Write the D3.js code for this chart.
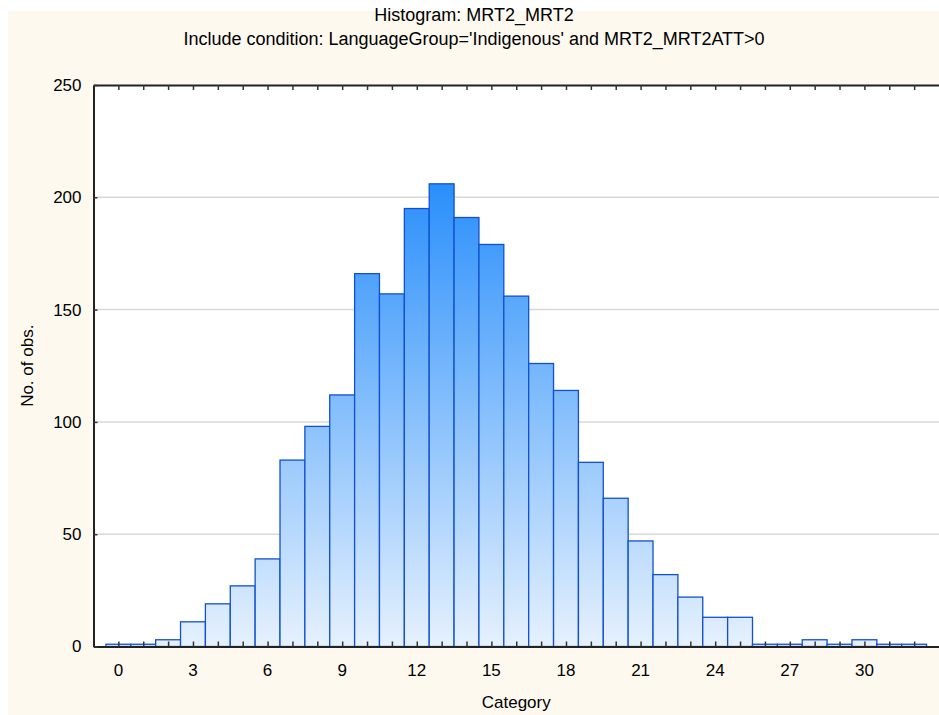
<!DOCTYPE html>
<html>
<head>
<meta charset="utf-8">
<script src="https://cdn.jsdelivr.net/npm/d3@7"></script>
<style>
  html, body { margin: 0; padding: 0; background: #fff; }
  svg { display: block; }
</style>
</head>
<body>
<script>
// histogram counts, one per category 0..32
var categories = d3.range(0, 33)
var counts = [1, 1, 3, 11, 19, 27, 39, 83, 98, 112, 166, 157, 195, 206, 191, 179, 156,
              126, 114, 82, 66, 47, 32, 22, 13, 13, 1, 1, 3, 1, 3, 1, 1]
var xTickLabels = [0, 3, 6, 9, 12, 15, 18, 21, 24, 27, 30]
var yTickLabels = [0, 50, 100, 150, 200, 250]
var titleLines = ["Histogram: MRT2_MRT2",
                  "Include condition: LanguageGroup='Indigenous' and MRT2_MRT2ATT>0"]

var width = 939, height = 715
var margin = {top: 85, right: 0, bottom: 68.5, left: 93.5}
var fontSize = 17

var svg = d3.select("body").append("svg")
    .attr("width", width)
    .attr("height", height)
    .attr("font-family", "'Liberation Sans', Arial, sans-serif")
    .attr("font-size", fontSize)

// cream graph background
svg.append("rect")
    .attr("x", 8).attr("y", 11)
    .attr("width", width - 8).attr("height", height - 11)
    .attr("fill", "#fdf9ef")

var xScale = d3.scaleLinear()
    .domain([-1, 33])
    .range([margin.left, width - margin.right])
var yScale = d3.scaleLinear()
    .domain([0, 250])
    .range([height - margin.bottom, margin.top])

// plot area
svg.append("rect")
    .attr("x", margin.left).attr("y", margin.top)
    .attr("width", width - margin.right - margin.left)
    .attr("height", yScale(0) - margin.top)
    .attr("fill", "#fff")

// gridlines
svg.append("g")
    .selectAll("line")
    .data(yTickLabels.filter(d => d > 0 && d < 250))
    .join("line")
        .attr("x1", margin.left).attr("x2", width)
        .attr("y1", d => yScale(d)).attr("y2", d => yScale(d))
        .attr("stroke", "#d8d8d8")
        .attr("stroke-width", 1.5)

// vertical gradient in user space so tall bars are darker at top
var defs = svg.append("defs")
var grad = defs.append("linearGradient")
    .attr("id", "barGrad")
    .attr("gradientUnits", "userSpaceOnUse")
    .attr("x1", 0).attr("x2", 0)
    .attr("y1", yScale(0)).attr("y2", yScale(d3.max(counts)))
grad.append("stop").attr("offset", 0).attr("stop-color", "#e6f1fd")
grad.append("stop").attr("offset", 1).attr("stop-color", "#2a8ffb")

svg.append("g")
    .selectAll("rect")
    .data(counts)
    .join("rect")
        .attr("x", (d, i) => xScale(categories[i] - 0.5))
        .attr("width", (d, i) => xScale(categories[i] + 0.5) - xScale(categories[i] - 0.5))
        .attr("y", d => yScale(d))
        .attr("height", d => yScale(0) - yScale(d))
        .attr("fill", "url(#barGrad)")
        .attr("stroke", "#1150d2")
        .attr("stroke-width", 1.3)

// axes: bottom, top, left spines with inward ticks
var xAxisBottom = g => g
    .attr("transform", `translate(0,${yScale(0)})`)
    .call(d3.axisBottom(xScale).tickValues(categories).tickSizeInner(-5).tickSizeOuter(0).tickFormat(""))
    .call(g => g.select(".domain").attr("stroke", "#222").attr("stroke-width", 2))
    .call(g => g.selectAll(".tick line").attr("stroke", "#333").attr("stroke-width", 1.5))
var xAxisTop = g => g
    .attr("transform", `translate(0,${margin.top})`)
    .call(d3.axisTop(xScale).tickValues(categories).tickSizeInner(-5).tickSizeOuter(0).tickFormat(""))
    .call(g => g.select(".domain").attr("stroke", "#222").attr("stroke-width", 2))
    .call(g => g.selectAll(".tick line").attr("stroke", "#333").attr("stroke-width", 1.5))
var yAxis = g => g
    .attr("transform", `translate(${margin.left},0)`)
    .call(d3.axisLeft(yScale).tickValues(yTickLabels).tickSizeInner(-4).tickSizeOuter(0).tickPadding(12))
    .call(g => g.select(".domain").attr("stroke", "#222").attr("stroke-width", 2))
    .call(g => g.selectAll(".tick line").attr("stroke", "#333").attr("stroke-width", 1.5))
    .call(g => g.selectAll(".tick text").attr("fill", "#000").attr("font-size", fontSize).attr("font-family", null))

svg.append("g").call(xAxisBottom)
svg.append("g").call(xAxisTop)
svg.append("g").call(yAxis)

// x tick labels every 3 categories
svg.append("g")
    .selectAll("text")
    .data(xTickLabels)
    .join("text")
        .attr("x", d => xScale(d))
        .attr("y", yScale(0) + 29)
        .attr("text-anchor", "middle")
        .text(d => d)

// axis titles
svg.append("text")
    .attr("x", (margin.left + width) / 2)
    .attr("y", 708)
    .attr("text-anchor", "middle")
    .text("Category")
svg.append("text")
    .attr("transform", `translate(33,${(margin.top + yScale(0)) / 2}) rotate(-90)`)
    .attr("text-anchor", "middle")
    .text("No. of obs.")

// chart title
svg.append("g")
    .attr("font-size", 18)
    .selectAll("text")
    .data(titleLines)
    .join("text")
        .attr("x", 474)
        .attr("y", (d, i) => 21 + i * 24)
        .attr("text-anchor", "middle")
        .text(d => d)
</script>
</body>
</html>
